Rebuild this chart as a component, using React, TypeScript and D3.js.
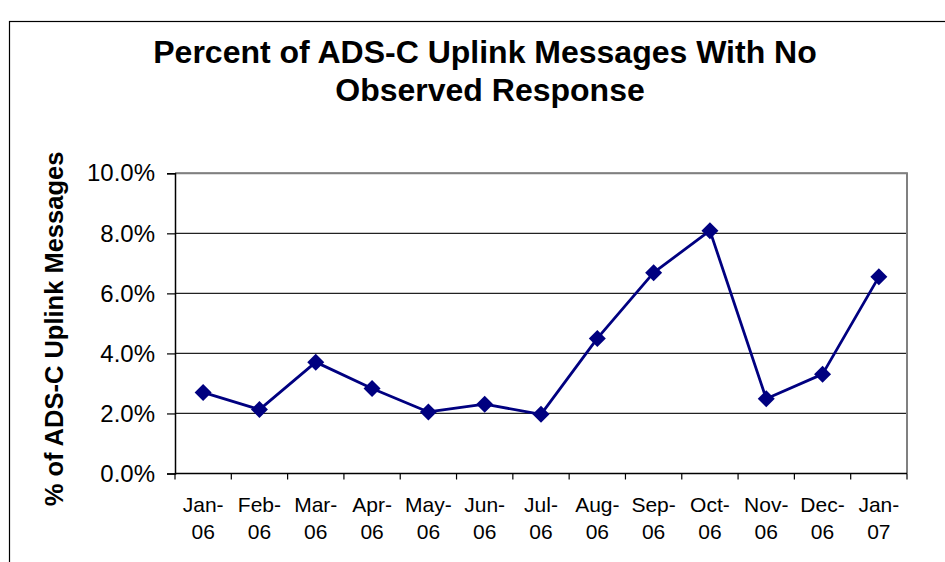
import { useEffect, useRef } from 'react';
import * as d3 from 'd3';

// Monthly share of ADS-C uplinks with no observed response (%)
const months = ['Jan-06', 'Feb-06', 'Mar-06', 'Apr-06', 'May-06', 'Jun-06', 'Jul-06',
  'Aug-06', 'Sep-06', 'Oct-06', 'Nov-06', 'Dec-06', 'Jan-07'];
const noResponse = [2.70, 2.13, 3.71, 2.83, 2.05, 2.31, 1.97, 4.50, 6.69, 8.09, 2.49, 3.31, 6.55];
const yTicks = [0, 2, 4, 6, 8, 10];

const FONT = '"Liberation Sans", Arial, Helvetica, sans-serif';
const NAVY = '#000080';

export default function App() {
  const svgRef = useRef<SVGSVGElement>(null);

  useEffect(() => {
    if (!svgRef.current) return;
    const W = 945;
    const H = 562;
    const plot = { left: 175, right: 907, top: 173.3, bottom: 473.5 };

    const svg = d3.select(svgRef.current);
    svg.selectAll('*').remove();

    // outer chart frame (runs off the right and bottom edges)
    svg.append('rect')
      .attr('x', 9.5).attr('y', 21.5)
      .attr('width', W + 20).attr('height', H + 20)
      .attr('fill', 'white').attr('stroke', '#000').attr('stroke-width', 1.2);

    const x = d3.scaleBand<string>()
      .domain(months)
      .range([plot.left, plot.right])
      .padding(0);

    const y = d3.scaleLinear()
      .domain([0, 10])
      .range([plot.bottom, plot.top]);

    // gridlines
    svg.append('g')
      .selectAll('line')
      .data(yTicks.filter(t => t > 0))
      .enter()
      .append('line')
      .attr('x1', plot.left).attr('x2', plot.right)
      .attr('y1', d => y(d)).attr('y2', d => y(d))
      .attr('stroke', '#222').attr('stroke-width', 1.2);

    // plot area border (top + right in gray)
    svg.append('path')
      .attr('d', `M${plot.left},${plot.top}H${plot.right}V${plot.bottom}`)
      .attr('fill', 'none').attr('stroke', '#808080').attr('stroke-width', 2);

    // y axis
    const yAxis = svg.append('g')
      .attr('transform', `translate(${plot.left},0)`)
      .call(d3.axisLeft(y).tickValues(yTicks).tickSize(8).tickPadding(12)
        .tickFormat(d => `${(+d).toFixed(1)}%`));
    yAxis.select('.domain').attr('stroke', '#000').attr('stroke-width', 1.5);
    yAxis.selectAll('.tick line').attr('stroke', '#000').attr('stroke-width', 1.2);
    yAxis.selectAll('.tick text')
      .attr('font-family', FONT).attr('font-size', 24).attr('fill', '#000');

    // x axis: ticks on category boundaries
    svg.append('line')
      .attr('x1', plot.left).attr('x2', plot.right)
      .attr('y1', plot.bottom).attr('y2', plot.bottom)
      .attr('stroke', '#000').attr('stroke-width', 1.5);

    const bounds = months.map(m => x(m)!).concat([plot.right]);
    svg.append('g')
      .selectAll('line')
      .data(bounds)
      .enter()
      .append('line')
      .attr('x1', d => d).attr('x2', d => d)
      .attr('y1', plot.bottom).attr('y2', plot.bottom + 6)
      .attr('stroke', '#000').attr('stroke-width', 1.2);

    const xLabels = svg.append('g')
      .selectAll('text')
      .data(months)
      .enter()
      .append('text')
      .attr('text-anchor', 'middle')
      .attr('font-family', FONT)
      .attr('font-size', 21)
      .attr('fill', '#000');
    xLabels.append('tspan')
      .attr('x', d => x(d)! + x.bandwidth() / 2)
      .attr('y', 511.5)
      .text(d => d.split('-')[0] + '-');
    xLabels.append('tspan')
      .attr('x', d => x(d)! + x.bandwidth() / 2)
      .attr('y', 539)
      .text(d => d.split('-')[1]);

    // series line
    const pts = months.map((m, i) => [x(m)! + x.bandwidth() / 2, y(noResponse[i])] as [number, number]);
    svg.append('path')
      .attr('d', d3.line()(pts))
      .attr('fill', 'none')
      .attr('stroke', NAVY)
      .attr('stroke-width', 2.8)
      .attr('stroke-linejoin', 'round');

    // diamond markers
    const r = 8.5;
    svg.append('g')
      .selectAll('path')
      .data(pts)
      .enter()
      .append('path')
      .attr('d', d => `M${d[0]},${d[1] - r}L${d[0] + r},${d[1]}L${d[0]},${d[1] + r}L${d[0] - r},${d[1]}Z`)
      .attr('fill', NAVY);

    // title
    const title = svg.append('text')
      .attr('text-anchor', 'middle')
      .attr('font-family', FONT)
      .attr('font-weight', 'bold')
      .attr('font-size', 32)
      .attr('fill', '#000');
    title.append('tspan').attr('x', 485).attr('y', 62.5)
      .text('Percent of ADS-C Uplink Messages With No');
    title.append('tspan').attr('x', 490).attr('y', 100.5)
      .text('Observed Response');

    // y axis title
    svg.append('text')
      .attr('transform', `translate(63,329) rotate(-90)`)
      .attr('text-anchor', 'middle')
      .attr('font-family', FONT)
      .attr('font-weight', 'bold')
      .attr('font-size', 25.5)
      .attr('fill', '#000')
      .text('% of ADS-C Uplink Messages');
  }, []);

  return (
    <svg
      ref={svgRef}
      width={945}
      height={562}
      style={{ position: 'absolute', left: 0, top: 0, background: 'white' }}
    />
  );
}
